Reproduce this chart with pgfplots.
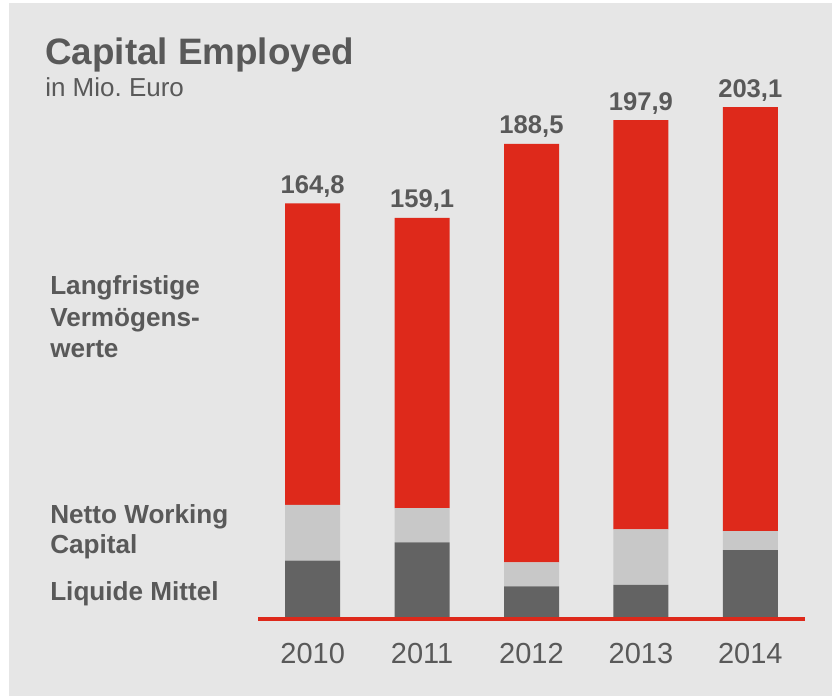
\documentclass[border=0pt]{standalone}
\usepackage{pgfplots}
\usepackage{pgfplotstable}
\pgfplotsset{compat=1.18}
\usepackage{fontspec}
\setmainfont{Liberation Sans}

\definecolor{bg}{HTML}{E6E6E6}
\definecolor{txt}{HTML}{595959}
\definecolor{cered}{HTML}{DE291B}
\definecolor{cedark}{HTML}{636363}
\definecolor{celight}{HTML}{C8C8C8}

% Liquide Mittel / Netto Working Capital / Langfristige Vermoegenswerte / Summe
\pgfplotstableread{
x dark light red total
0 22.7 22.2 119.9 164.8
1 30.0 13.6 115.5 159.1
2 12.5 9.5 166.5 188.5
3 13.1 22.0 162.8 197.9
4 26.9 7.6 168.6 203.1
}\capdata

\pgfplotsset{
  ceframe/.style={
    at={(193.5pt,58.7pt)}, anchor=south west,
    scale only axis,
    width=410.25pt, height=414.8pt,
    xmin=-0.5, xmax=4.5,
    ymin=0, ymax=220,
    clip=false,
  },
}

\begin{document}
\begin{tikzpicture}
\useasboundingbox (0,0) rectangle (624pt,522pt);
\fill[white] (0,0) rectangle (624pt,522pt);
\fill[bg] (6.75pt,0) rectangle (624pt,519.75pt);

% title
\node[anchor=base west, inner sep=0, text=txt, font=\bfseries\fontsize{27.6}{33}\selectfont]
  at (33.75pt,473.6pt) {Capital Employed};
\node[anchor=base west, inner sep=0, text=txt, font=\fontsize{19.5}{23}\selectfont]
  at (33.75pt,449.25pt) {in Mio.\ Euro};

% series labels
\begin{scope}[every node/.style={anchor=base west, inner sep=0, text=txt,
    font=\bfseries\fontsize{19.6}{23}\selectfont}]
  \node at (37.5pt,300.75pt) {Langfristige};
  \node at (37.5pt,277.1pt) {Vermögens-};
  \node at (37.5pt,253.5pt) {werte};
  \node at (37.5pt,129.5pt) {Netto Working};
  \node at (37.5pt,107.0pt) {Capital};
  \node at (37.5pt,71.25pt) {Liquide Mittel};
\end{scope}

\begin{axis}[
    ceframe,
    ybar stacked,
    bar width=41.25pt,
    axis line style={draw=none},
    ytick=\empty,
    xtick={0,1,2,3,4},
    xticklabels={2010,2011,2012,2013,2014},
    major tick length=0pt,
    xticklabel style={anchor=base, yshift=-34.7pt, text=txt,
        font=\fontsize{21.75}{26}\selectfont},
]
  \addplot[fill=cedark, draw=none] table[x=x, y=dark] {\capdata};
  \addplot[fill=celight, draw=none] table[x=x, y=light] {\capdata};
  \addplot[fill=cered, draw=none] table[x=x, y=red] {\capdata};
\end{axis}

% totals above the bars
\begin{axis}[ceframe, hide axis]
  \addplot[draw=none, mark=none,
      nodes near coords,
      nodes near coords style={anchor=base, yshift=7.5pt, text=txt,
          font=\bfseries\fontsize{19.2}{23}\selectfont,
          /pgf/number format/.cd, fixed, fixed zerofill, precision=1,
          use comma, assume math mode=true},
  ] table[x=x, y=total] {\capdata};
\end{axis}

% red base line
\draw[cered, line width=3.2pt] (193.5pt,57.6pt) -- (603.75pt,57.6pt);
\end{tikzpicture}
\end{document}
